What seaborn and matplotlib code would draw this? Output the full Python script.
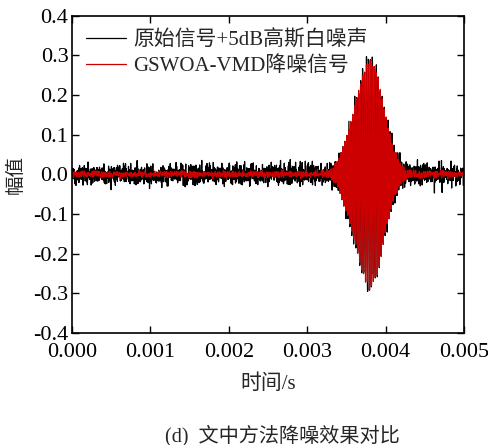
import numpy as np
import pandas as pd
import seaborn as sns
import matplotlib
matplotlib.use("Agg")
import matplotlib.pyplot as plt

# ---- values ----
x_ticks = [0.000, 0.001, 0.002, 0.003, 0.004, 0.005]
x_tick_labels = ["0.000", "0.001", "0.002", "0.003", "0.004", "0.005"]
y_ticks = [-0.4, -0.3, -0.2, -0.1, 0.0, 0.1, 0.2, 0.3, 0.4]
y_tick_labels = ["-0.4", "-0.3", "-0.2", "-0.1", "0.0", "0.1", "0.2", "0.3", "0.4"]

# envelope of the echo burst (time in s, amplitude)
burst_t = [0.0000, 0.0032, 0.0033, 0.0034, 0.0035, 0.0036, 0.0037, 0.0038,
           0.0039, 0.0040, 0.0041, 0.0042, 0.0043, 0.0050]
burst_amp = [0.004, 0.004, 0.010, 0.035, 0.095, 0.170, 0.250, 0.295,
             0.255, 0.150, 0.065, 0.022, 0.006, 0.004]
carrier_hz = 40000.0
sample_rate = 5.0e5
noise_std_raw = 0.012      # black trace noise level
noise_std_denoised = 0.003  # red trace residual level

legend_labels = ["原始信号+5dB高斯白噪声", "GSWOA-VMD降噪信号"]
x_label = "时间/s"
y_label = "幅值"
caption = "(d)  文中方法降噪效果对比"

# ---- build series ----
t = np.arange(0, 0.005 + 1e-9, 1.0 / sample_rate)
env = np.interp(t, burst_t, burst_amp)
clean = env * np.sin(2 * np.pi * carrier_hz * t)
rng = np.random.default_rng(7)
raw = clean + rng.normal(0, noise_std_raw, t.size)
resid = np.convolve(rng.normal(0, noise_std_denoised, t.size), np.ones(3) / 3 * 1.6, mode="same")
den = clean * 0.99 + resid

df = pd.DataFrame({"t": t, "raw": raw, "den": den})

sns.set_theme(style="ticks")
plt.rcParams["font.family"] = ["Liberation Serif", "Noto Sans CJK SC"]
plt.rcParams["axes.unicode_minus"] = False

fig = plt.figure(figsize=(4.89, 4.45), dpi=100)
ax = fig.add_axes([0.147, 0.252, 0.802, 0.713])

sns.lineplot(data=df, x="t", y="raw", ax=ax, color="black", lw=0.9,
             label=legend_labels[0], estimator=None, sort=False)
sns.lineplot(data=df, x="t", y="den", ax=ax, color="#cc0000", lw=0.9,
             label=legend_labels[1], estimator=None, sort=False)

ax.set_xlim(0, 0.005)
ax.set_ylim(-0.4, 0.4)
ax.set_xticks(x_ticks)
ax.set_xticklabels(x_tick_labels)
ax.set_yticks(y_ticks)
ax.set_yticklabels(y_tick_labels)
ax.tick_params(direction="in", length=5, width=1, top=True, right=True,
               labelsize=16, colors="black")
ax.tick_params(axis="x", pad=7)
ax.tick_params(axis="y", pad=2.5)
for s in ax.spines.values():
    s.set_linewidth(1.2)
    s.set_color("black")

ax.set_xlabel(x_label, fontsize=15, labelpad=9)
ax.set_ylabel(y_label, fontsize=14, labelpad=6)

leg = ax.legend(loc="upper left", frameon=False, fontsize=15, handlelength=1.9,
                handletextpad=0.35, borderaxespad=0.4, labelspacing=0.3,
                borderpad=0.3)

fig.text(0.577, 0.022, caption, ha="center", va="center", fontsize=14.5)

fig.savefig("out.png", dpi=100)
